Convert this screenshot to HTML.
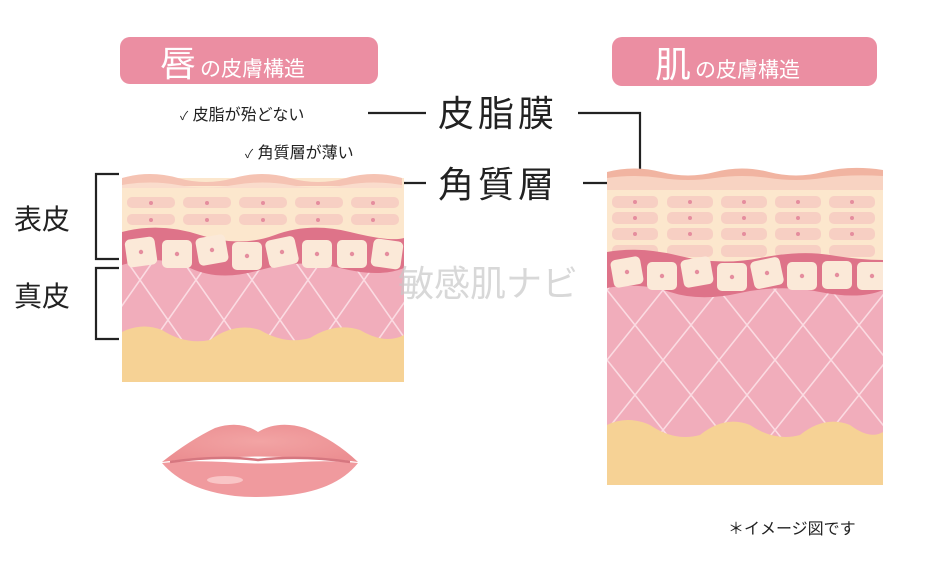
<!DOCTYPE html>
<html><head><meta charset="utf-8"><style>
html,body{margin:0;padding:0;background:#fff;}
svg{display:block;}
text{font-family:"Liberation Sans","Noto Sans CJK JP",sans-serif;}
</style></head><body>
<svg width="940" height="574" viewBox="0 0 940 574" xmlns="http://www.w3.org/2000/svg">
<defs>
<pattern id="lat" width="56" height="80" patternUnits="userSpaceOnUse">
<rect width="56" height="80" fill="#f1adbb"/>
<path d="M0 0 L56 80 M56 0 L0 80" stroke="#fbdbe2" stroke-width="1.6"/>
</pattern>
<pattern id="lat2" width="56" height="70" patternUnits="userSpaceOnUse" x="607" y="290">
<rect width="56" height="70" fill="#f1adbb"/>
<path d="M0 0 L56 70 M56 0 L0 70" stroke="#fbdbe2" stroke-width="1.6"/>
</pattern>
<clipPath id="cl"><rect x="122" y="170" width="282" height="212"/></clipPath>
<clipPath id="cr"><rect x="607" y="165" width="276" height="320"/></clipPath>
<radialGradient id="lip" cx="50%" cy="45%" r="60%"><stop offset="0" stop-color="#f2a4a4"/><stop offset="1" stop-color="#ec8f92"/></radialGradient>
</defs>

<rect x="120" y="37" width="258" height="47" rx="10" fill="#eb8ea2"/>
<text x="160" y="76" font-size="36" fill="#fff">唇</text>
<text x="200" y="76" font-size="21" fill="#fff">の皮膚構造</text>
<rect x="612" y="37" width="265" height="49" rx="10" fill="#eb8ea2"/>
<text x="655" y="77" font-size="36" fill="#fff">肌</text>
<text x="695" y="77" font-size="21" fill="#fff">の皮膚構造</text>

<text x="180" y="120" font-size="16" fill="#222"><tspan font-size="12">✓</tspan> 皮脂が殆どない</text>
<text x="245" y="158" font-size="16" fill="#222"><tspan font-size="12">✓</tspan> 角質層が薄い</text>
<text x="438" y="126" font-size="36" fill="#222" letter-spacing="4">皮脂膜</text>
<text x="438" y="197" font-size="36" fill="#222" letter-spacing="4">角質層</text>
<g stroke="#222" stroke-width="2.2" fill="none">
<path d="M368 113 H426"/>
<path d="M578 113 H640 V174"/>
<path d="M383 183 H426"/>
<path d="M583 183 H620"/>
<path d="M119 174 H96 V259 H119"/>
<path d="M119 268 H96 V339 H119"/>
</g>
<text x="14" y="229" font-size="28" fill="#222">表皮</text>
<text x="14" y="306" font-size="28" fill="#222">真皮</text>

<!-- LEFT PANEL -->
<g clip-path="url(#cl)">
<rect x="122" y="178" width="282" height="70" fill="#fce7cd"/>
<rect x="122" y="250" width="282" height="132" fill="url(#lat)"/>
<path d="M122 178 Q150 170 178 178 T234 178 T290 178 T346 178 T402 178 V186 H122Z" fill="#f5c3b3"/>
<path d="M122 185 Q150 180 178 185 T234 185 T290 185 T346 185 T402 185 V188 H122Z" fill="#fadccc"/>
<g fill="#f7cfc3">
<rect x="127" y="197" width="48" height="11" rx="5"/><rect x="183" y="197" width="48" height="11" rx="5"/><rect x="239" y="197" width="48" height="11" rx="5"/><rect x="295" y="197" width="48" height="11" rx="5"/><rect x="351" y="197" width="48" height="11" rx="5"/>
<rect x="127" y="214" width="48" height="11" rx="5"/><rect x="183" y="214" width="48" height="11" rx="5"/><rect x="239" y="214" width="48" height="11" rx="5"/><rect x="295" y="214" width="48" height="11" rx="5"/><rect x="351" y="214" width="48" height="11" rx="5"/>
</g>
<g fill="#e58d9e"><circle cx="151" cy="203" r="2"/><circle cx="207" cy="203" r="2"/><circle cx="263" cy="203" r="2"/><circle cx="318" cy="203" r="2"/><circle cx="373" cy="203" r="2"/>
<circle cx="151" cy="220" r="2"/><circle cx="207" cy="220" r="2"/><circle cx="263" cy="220" r="2"/><circle cx="318" cy="220" r="2"/><circle cx="373" cy="220" r="2"/></g>
<path d="M122 232 Q160 222 200 235 T275 235 T350 232 T404 238 V268 Q380 278 340 268 T260 270 T190 268 T122 265Z" fill="#de7389"/>
<g fill="#fbe9d8">
<rect x="126" y="238" width="30" height="28" rx="5" transform="rotate(-8 141 252)"/>
<rect x="162" y="240" width="30" height="28" rx="5"/>
<rect x="197" y="236" width="30" height="28" rx="5" transform="rotate(-10 212 250)"/>
<rect x="232" y="242" width="30" height="28" rx="5"/>
<rect x="267" y="238" width="30" height="28" rx="5" transform="rotate(-12 282 252)"/>
<rect x="302" y="240" width="30" height="28" rx="5"/>
<rect x="337" y="240" width="30" height="28" rx="5"/>
<rect x="372" y="240" width="30" height="28" rx="5" transform="rotate(8 387 254)"/>
</g>
<g fill="#e58d9e"><circle cx="141" cy="252" r="2.2"/><circle cx="177" cy="254" r="2.2"/><circle cx="212" cy="250" r="2.2"/><circle cx="247" cy="256" r="2.2"/><circle cx="282" cy="252" r="2.2"/><circle cx="317" cy="254" r="2.2"/><circle cx="352" cy="254" r="2.2"/><circle cx="387" cy="254" r="2.2"/></g>
<path d="M122 332 Q142 322 162 330 Q185 345 210 340 Q235 322 260 330 Q285 345 310 338 Q335 322 360 330 Q385 345 404 335 V382 H122Z" fill="#f6d295"/>
</g>

<!-- RIGHT PANEL -->
<g clip-path="url(#cr)">
<rect x="607" y="176" width="276" height="90" fill="#fce7cd"/>
<rect x="607" y="280" width="276" height="205" fill="url(#lat2)"/>
<path d="M607 172 Q634 165 661 172 T715 172 T769 172 T823 172 T883 170 V180 H607Z" fill="#f1b4a1"/>
<path d="M607 178 Q634 174 661 178 T715 178 T769 178 T823 178 T883 176 V190 H607Z" fill="#f8d3c2"/>
<g fill="#f7cfc3">
<rect x="612" y="196" width="46" height="12" rx="5"/><rect x="667" y="196" width="46" height="12" rx="5"/><rect x="721" y="196" width="46" height="12" rx="5"/><rect x="775" y="196" width="46" height="12" rx="5"/><rect x="829" y="196" width="46" height="12" rx="5"/>
<rect x="612" y="212" width="46" height="12" rx="5"/><rect x="667" y="212" width="46" height="12" rx="5"/><rect x="721" y="212" width="46" height="12" rx="5"/><rect x="775" y="212" width="46" height="12" rx="5"/><rect x="829" y="212" width="46" height="12" rx="5"/>
<rect x="612" y="228" width="46" height="12" rx="5"/><rect x="667" y="228" width="46" height="12" rx="5"/><rect x="721" y="228" width="46" height="12" rx="5"/><rect x="775" y="228" width="46" height="12" rx="5"/><rect x="829" y="228" width="46" height="12" rx="5"/>
<rect x="612" y="245" width="46" height="12" rx="5"/><rect x="667" y="245" width="46" height="12" rx="5"/><rect x="721" y="245" width="46" height="12" rx="5"/><rect x="775" y="245" width="46" height="12" rx="5"/><rect x="829" y="245" width="46" height="12" rx="5"/>
</g>
<g fill="#e58d9e"><circle cx="635" cy="202" r="2"/><circle cx="690" cy="202" r="2"/><circle cx="744" cy="202" r="2"/><circle cx="798" cy="202" r="2"/><circle cx="852" cy="202" r="2"/>
<circle cx="635" cy="218" r="2"/><circle cx="690" cy="218" r="2"/><circle cx="744" cy="218" r="2"/><circle cx="798" cy="218" r="2"/><circle cx="852" cy="218" r="2"/>
<circle cx="635" cy="234" r="2"/><circle cx="690" cy="234" r="2"/><circle cx="744" cy="234" r="2"/><circle cx="798" cy="234" r="2"/><circle cx="852" cy="234" r="2"/></g>
<path d="M607 252 Q640 246 680 256 T760 258 T830 255 T883 260 V290 Q860 300 820 292 T740 293 T670 292 T607 288Z" fill="#de7389"/>
<g fill="#fbe9d8">
<rect x="612" y="258" width="30" height="28" rx="5" transform="rotate(-10 627 272)"/>
<rect x="647" y="262" width="30" height="28" rx="5"/>
<rect x="682" y="258" width="30" height="28" rx="5" transform="rotate(-10 697 272)"/>
<rect x="717" y="263" width="30" height="28" rx="5"/>
<rect x="752" y="259" width="30" height="28" rx="5" transform="rotate(-12 767 273)"/>
<rect x="787" y="262" width="30" height="28" rx="5"/>
<rect x="822" y="261" width="30" height="28" rx="5"/>
<rect x="857" y="262" width="30" height="28" rx="5"/>
</g>
<g fill="#e58d9e"><circle cx="627" cy="272" r="2.2"/><circle cx="662" cy="276" r="2.2"/><circle cx="697" cy="272" r="2.2"/><circle cx="732" cy="277" r="2.2"/><circle cx="767" cy="273" r="2.2"/><circle cx="802" cy="276" r="2.2"/><circle cx="837" cy="275" r="2.2"/><circle cx="872" cy="276" r="2.2"/></g>
<path d="M607 425 Q627 415 650 425 Q675 442 700 435 Q725 415 750 425 Q775 442 800 435 Q825 415 850 425 Q870 440 883 432 V485 H607Z" fill="#f6d295"/>
</g>

<!-- lips -->
<path d="M162 462 Q190 440 215 428 Q240 420 258 432 Q278 420 305 428 Q335 440 358 462 Q330 458 300 458 Q260 455 220 458 Q190 458 162 462Z" fill="url(#lip)"/>
<path d="M162 463 Q190 460 225 462 Q260 465 300 462 Q330 460 358 463 Q335 492 280 496 Q255 498 235 496 Q185 490 162 463Z" fill="#f09a9e"/>
<path d="M170 462 Q220 455 258 460 Q300 455 350 462" stroke="#d67780" stroke-width="2.5" fill="none"/>
<ellipse cx="225" cy="480" rx="18" ry="4" fill="#fbd0d0" opacity="0.8"/>

<text x="398" y="296" font-size="36" fill="#c8c8c8" opacity="0.7">敏感肌ナビ</text>

<text x="728" y="534" font-size="16" fill="#222">＊イメージ図です</text>
</svg>
</body></html>
